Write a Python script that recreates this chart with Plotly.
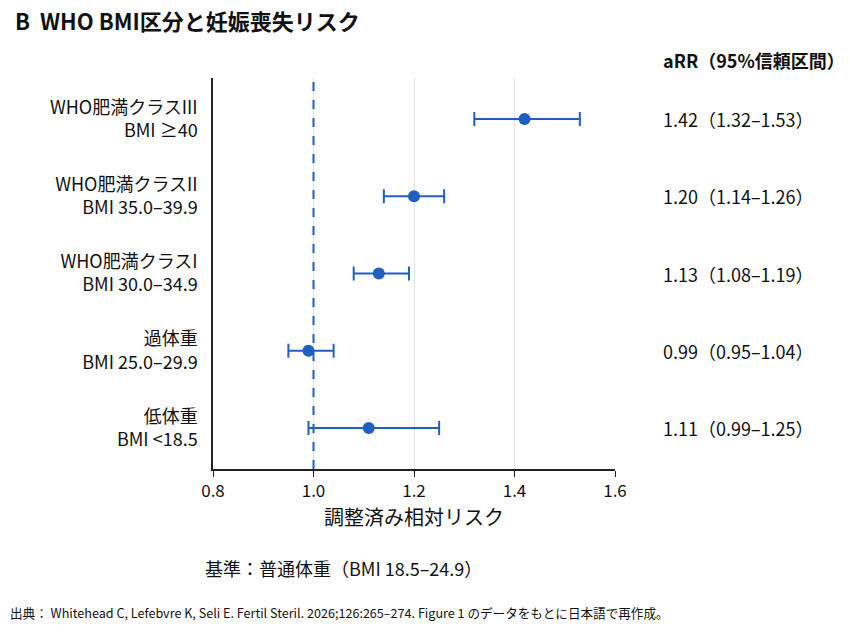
import plotly.graph_objects as go

# 各BMI区分の調整済み相対リスク（上から順）
categories = [
    "WHO肥満クラスIII<br>BMI ≥40",
    "WHO肥満クラスII<br>BMI 35.0–39.9",
    "WHO肥満クラスI<br>BMI 30.0–34.9",
    "過体重<br>BMI 25.0–29.9",
    "低体重<br>BMI <18.5",
]
arr = [1.42, 1.20, 1.13, 0.99, 1.11]
ci_low = [1.32, 1.14, 1.08, 0.95, 0.99]
ci_high = [1.53, 1.26, 1.19, 1.04, 1.25]
x_ticks = [0.8, 1.0, 1.2, 1.4, 1.6]

FONT = "Noto Sans CJK JP, Noto Sans, sans-serif"
BLUE = "#1f5fbf"

ypos = list(range(len(categories)))[::-1]

fig = go.Figure()
fig.add_trace(go.Scatter(
    x=arr, y=ypos, mode="markers",
    marker=dict(color=BLUE, size=12),
    error_x=dict(
        type="data", symmetric=False,
        array=[h - v for h, v in zip(ci_high, arr)],
        arrayminus=[v - l for v, l in zip(arr, ci_low)],
        color=BLUE, thickness=2, width=7,
    ),
    showlegend=False, hoverinfo="x",
))

fig.add_vline(x=1.0, line=dict(color=BLUE, dash="dash", width=2))

# 右側の aRR（95%CI）列
annotations = [dict(
    text="<b>aRR（95%信頼区間）</b>", xref="paper", yref="paper",
    x=1.114, y=1.046, xanchor="left", yanchor="middle", showarrow=False,
    font=dict(size=18, color="#111"),
)]
for y, v, lo, hi in zip(ypos, arr, ci_low, ci_high):
    annotations.append(dict(
        text=f"{v:.2f}（{lo:.2f}–{hi:.2f}）", xref="paper", yref="y",
        x=1.114, y=y, xanchor="left", yanchor="middle", showarrow=False,
        font=dict(size=18, color="#111"),
    ))
annotations.append(dict(
    text="基準：普通体重（BMI 18.5–24.9）", xref="paper", yref="paper",
    x=-0.025, y=-0.253, xanchor="left", yanchor="middle", showarrow=False,
    font=dict(size=18, color="#111"),
))
annotations.append(dict(
    text="出典： Whitehead C, Lefebvre K, Seli E. Fertil Steril. 2026;126:265–274. Figure 1 のデータをもとに日本語で再作成。",
    xref="paper", yref="paper", x=-0.51, y=-0.366, xanchor="left", yanchor="middle",
    showarrow=False, font=dict(size=12.6, color="#111"),
))

fig.update_layout(
    width=850, height=638,
    paper_bgcolor="white", plot_bgcolor="white",
    font=dict(family=FONT, size=18, color="#111"),
    title=dict(
        text="<b>B  WHO BMI区分と妊娠喪失リスク</b>",
        x=15 / 850, xanchor="left", y=1 - 22 / 638, yanchor="middle",
        font=dict(size=22, color="#111"),
    ),
    margin=dict(l=213, r=235, t=78, b=169),
    annotations=annotations,
    xaxis=dict(
        range=[0.8, 1.6], tickvals=x_ticks, ticktext=[f"{t:.1f}" for t in x_ticks],
        showgrid=True, gridcolor="#e4e4e4", gridwidth=1,
        showline=True, linecolor="#222", linewidth=1.5,
        ticks="outside", ticklen=6, tickcolor="#222",
        tickfont=dict(size=17),
        zeroline=False,
        title=dict(text="調整済み相対リスク", font=dict(size=20), standoff=10),
    ),
    yaxis=dict(
        range=[-0.53, 4.53], tickvals=ypos, ticktext=categories,
        showgrid=False, zeroline=False,
        showline=True, linecolor="#222", linewidth=1.5,
        ticks="", ticklabelstandoff=10,
    ),
)

# ページ余白をなくして 850x638 にぴったり合わせる
fig.write_html(
    "out.html",
    config={"displayModeBar": False},
    post_script="document.body.style.margin='0';",
)
